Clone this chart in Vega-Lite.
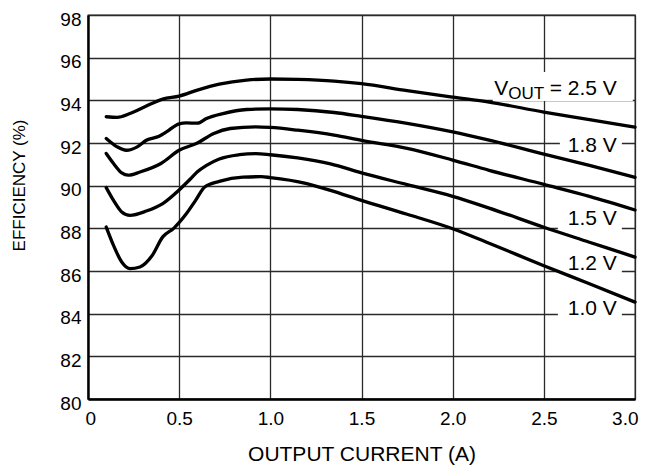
{
  "$schema": "https://vega.github.io/schema/vega-lite/v6.json",
  "width": 547,
  "height": 384,
  "autosize": {"type": "none"},
  "padding": {"left": 88, "top": 15, "right": 14, "bottom": 66},
  "background": "white",
  "config": {
    "font": "Liberation Sans",
    "view": {"stroke": "#333", "strokeWidth": 1.3},
    "axis": {
      "grid": true, "gridColor": "#2a2a2a", "gridWidth": 1.3, "gridOpacity": 1,
      "ticks": false, "domainColor": "#000", "domainWidth": 2.4,
      "labelColor": "#000", "titleColor": "#000",
      "labelFont": "Liberation Sans", "titleFont": "Liberation Sans",
      "titleFontWeight": "normal", "labelFontSize": 19
    }
  },
  "datasets": {
    "curves": [
      {"vout": "2.5 V", "current": 0.1, "eff": 93.23},
      {"vout": "2.5 V", "current": 0.16, "eff": 93.2},
      {"vout": "2.5 V", "current": 0.23, "eff": 93.38},
      {"vout": "2.5 V", "current": 0.32, "eff": 93.73},
      {"vout": "2.5 V", "current": 0.41, "eff": 94.06},
      {"vout": "2.5 V", "current": 0.5, "eff": 94.2},
      {"vout": "2.5 V", "current": 0.6, "eff": 94.48},
      {"vout": "2.5 V", "current": 0.72, "eff": 94.76},
      {"vout": "2.5 V", "current": 0.87, "eff": 94.95},
      {"vout": "2.5 V", "current": 1.0, "eff": 95.0},
      {"vout": "2.5 V", "current": 1.15, "eff": 94.98},
      {"vout": "2.5 V", "current": 1.35, "eff": 94.9},
      {"vout": "2.5 V", "current": 1.5, "eff": 94.78},
      {"vout": "2.5 V", "current": 1.75, "eff": 94.45},
      {"vout": "2.5 V", "current": 2.0, "eff": 94.15},
      {"vout": "2.5 V", "current": 2.2, "eff": 93.92},
      {"vout": "2.5 V", "current": 2.5, "eff": 93.45},
      {"vout": "2.5 V", "current": 2.75, "eff": 93.1},
      {"vout": "2.5 V", "current": 3.0, "eff": 92.74},
      {"vout": "1.8 V", "current": 0.1, "eff": 92.21},
      {"vout": "1.8 V", "current": 0.16, "eff": 91.82},
      {"vout": "1.8 V", "current": 0.21, "eff": 91.66},
      {"vout": "1.8 V", "current": 0.27, "eff": 91.82},
      {"vout": "1.8 V", "current": 0.32, "eff": 92.13},
      {"vout": "1.8 V", "current": 0.39, "eff": 92.32},
      {"vout": "1.8 V", "current": 0.43, "eff": 92.52},
      {"vout": "1.8 V", "current": 0.5, "eff": 92.9},
      {"vout": "1.8 V", "current": 0.54, "eff": 92.94},
      {"vout": "1.8 V", "current": 0.6, "eff": 92.93},
      {"vout": "1.8 V", "current": 0.65, "eff": 93.15},
      {"vout": "1.8 V", "current": 0.74, "eff": 93.38},
      {"vout": "1.8 V", "current": 0.87, "eff": 93.57},
      {"vout": "1.8 V", "current": 1.0, "eff": 93.6},
      {"vout": "1.8 V", "current": 1.15, "eff": 93.57},
      {"vout": "1.8 V", "current": 1.35, "eff": 93.43},
      {"vout": "1.8 V", "current": 1.5, "eff": 93.25},
      {"vout": "1.8 V", "current": 1.75, "eff": 92.92},
      {"vout": "1.8 V", "current": 2.0, "eff": 92.52},
      {"vout": "1.8 V", "current": 2.2, "eff": 92.13},
      {"vout": "1.8 V", "current": 2.5, "eff": 91.48},
      {"vout": "1.8 V", "current": 2.75, "eff": 90.95},
      {"vout": "1.8 V", "current": 3.0, "eff": 90.39},
      {"vout": "1.5 V", "current": 0.1, "eff": 91.51},
      {"vout": "1.5 V", "current": 0.14, "eff": 91.04},
      {"vout": "1.5 V", "current": 0.185, "eff": 90.6},
      {"vout": "1.5 V", "current": 0.22, "eff": 90.49},
      {"vout": "1.5 V", "current": 0.285, "eff": 90.64},
      {"vout": "1.5 V", "current": 0.4, "eff": 91.04},
      {"vout": "1.5 V", "current": 0.5, "eff": 91.66},
      {"vout": "1.5 V", "current": 0.6, "eff": 92.0},
      {"vout": "1.5 V", "current": 0.69, "eff": 92.45},
      {"vout": "1.5 V", "current": 0.78, "eff": 92.68},
      {"vout": "1.5 V", "current": 0.92, "eff": 92.76},
      {"vout": "1.5 V", "current": 1.0, "eff": 92.73},
      {"vout": "1.5 V", "current": 1.15, "eff": 92.6},
      {"vout": "1.5 V", "current": 1.35, "eff": 92.37},
      {"vout": "1.5 V", "current": 1.5, "eff": 92.12},
      {"vout": "1.5 V", "current": 1.75, "eff": 91.75},
      {"vout": "1.5 V", "current": 2.0, "eff": 91.2},
      {"vout": "1.5 V", "current": 2.2, "eff": 90.72},
      {"vout": "1.5 V", "current": 2.5, "eff": 90.06},
      {"vout": "1.5 V", "current": 2.75, "eff": 89.5},
      {"vout": "1.5 V", "current": 3.0, "eff": 88.86},
      {"vout": "1.2 V", "current": 0.1, "eff": 89.91},
      {"vout": "1.2 V", "current": 0.14, "eff": 89.31},
      {"vout": "1.2 V", "current": 0.185, "eff": 88.77},
      {"vout": "1.2 V", "current": 0.23, "eff": 88.61},
      {"vout": "1.2 V", "current": 0.32, "eff": 88.81},
      {"vout": "1.2 V", "current": 0.41, "eff": 89.16},
      {"vout": "1.2 V", "current": 0.5, "eff": 89.8},
      {"vout": "1.2 V", "current": 0.56, "eff": 90.3},
      {"vout": "1.2 V", "current": 0.6, "eff": 90.65},
      {"vout": "1.2 V", "current": 0.65, "eff": 90.95},
      {"vout": "1.2 V", "current": 0.72, "eff": 91.25},
      {"vout": "1.2 V", "current": 0.83, "eff": 91.45},
      {"vout": "1.2 V", "current": 0.92, "eff": 91.5},
      {"vout": "1.2 V", "current": 1.0, "eff": 91.45},
      {"vout": "1.2 V", "current": 1.15, "eff": 91.3},
      {"vout": "1.2 V", "current": 1.33, "eff": 91.02},
      {"vout": "1.2 V", "current": 1.5, "eff": 90.6},
      {"vout": "1.2 V", "current": 1.75, "eff": 90.05},
      {"vout": "1.2 V", "current": 2.0, "eff": 89.5},
      {"vout": "1.2 V", "current": 2.2, "eff": 88.95},
      {"vout": "1.2 V", "current": 2.5, "eff": 88.05},
      {"vout": "1.2 V", "current": 2.75, "eff": 87.35},
      {"vout": "1.2 V", "current": 3.0, "eff": 86.65},
      {"vout": "1.0 V", "current": 0.1, "eff": 88.06},
      {"vout": "1.0 V", "current": 0.14, "eff": 87.2},
      {"vout": "1.0 V", "current": 0.185, "eff": 86.42},
      {"vout": "1.0 V", "current": 0.23, "eff": 86.11},
      {"vout": "1.0 V", "current": 0.285, "eff": 86.19},
      {"vout": "1.0 V", "current": 0.35, "eff": 86.7},
      {"vout": "1.0 V", "current": 0.41, "eff": 87.6},
      {"vout": "1.0 V", "current": 0.47, "eff": 88.0},
      {"vout": "1.0 V", "current": 0.54, "eff": 88.69},
      {"vout": "1.0 V", "current": 0.59, "eff": 89.31},
      {"vout": "1.0 V", "current": 0.64, "eff": 89.94},
      {"vout": "1.0 V", "current": 0.72, "eff": 90.2},
      {"vout": "1.0 V", "current": 0.85, "eff": 90.4},
      {"vout": "1.0 V", "current": 0.95, "eff": 90.42},
      {"vout": "1.0 V", "current": 1.0, "eff": 90.38},
      {"vout": "1.0 V", "current": 1.2, "eff": 90.1},
      {"vout": "1.0 V", "current": 1.33, "eff": 89.78},
      {"vout": "1.0 V", "current": 1.5, "eff": 89.31},
      {"vout": "1.0 V", "current": 1.75, "eff": 88.66},
      {"vout": "1.0 V", "current": 2.0, "eff": 87.98},
      {"vout": "1.0 V", "current": 2.2, "eff": 87.3},
      {"vout": "1.0 V", "current": 2.5, "eff": 86.25},
      {"vout": "1.0 V", "current": 2.75, "eff": 85.4},
      {"vout": "1.0 V", "current": 3.0, "eff": 84.54}
    ],
    "boxes": [
      {"label": "2.5 V", "x1": 2.22, "x2": 2.988, "y1": 95.33, "y2": 93.97},
      {"label": "1.8 V", "x1": 2.588, "x2": 2.928, "y1": 92.52, "y2": 91.45},
      {"label": "1.5 V", "x1": 2.577, "x2": 2.928, "y1": 89.05, "y2": 87.9},
      {"label": "1.2 V", "x1": 2.577, "x2": 2.928, "y1": 86.94, "y2": 85.8},
      {"label": "1.0 V", "x1": 2.577, "x2": 2.928, "y1": 84.83, "y2": 83.7}
    ],
    "labels": [
      {"part": "main", "text": "= 2.5 V", "x": 2.9, "y": 94.25},
      {"part": "main", "text": "1.8 V", "x": 2.9, "y": 91.59},
      {"part": "main", "text": "1.5 V", "x": 2.9, "y": 88.16},
      {"part": "main", "text": "1.2 V", "x": 2.9, "y": 86.05},
      {"part": "main", "text": "1.0 V", "x": 2.9, "y": 83.94},
      {"part": "v", "text": "V", "x": 2.305, "y": 94.25},
      {"part": "sub", "text": "OUT", "x": 2.305, "y": 94.05}
    ]
  },
  "layer": [
    {
      "data": {"name": "boxes"},
      "mark": {"type": "rect", "fill": "white", "stroke": null},
      "encoding": {
        "x": {
          "field": "x1", "type": "quantitative",
          "scale": {"domain": [0, 3], "nice": false, "zero": false},
          "axis": {
            "title": "OUTPUT CURRENT (A)",
            "values": [0, 0.5, 1, 1.5, 2, 2.5, 3],
            "labelExpr": "datum.value == 0 ? '0' : format(datum.value, '.1f')",
            "labelPadding": 10, "labelFlush": true, "labelFlushOffset": 3,
            "titleFontSize": 21, "titleBaseline": "alphabetic", "titleY": 61
          }
        },
        "x2": {"field": "x2"},
        "y": {
          "field": "y1", "type": "quantitative",
          "scale": {"domain": [80, 98], "nice": false, "zero": false},
          "axis": {
            "title": "EFFICIENCY (%)",
            "values": [80, 82, 84, 86, 88, 90, 92, 94, 96, 98],
            "format": "d",
            "labelPadding": 7, "labelFlush": false,
            "labelBaseline": "alphabetic", "labelOffset": 10,
            "titleFontSize": 17, "titleAngle": -90, "titleAlign": "center",
            "titleBaseline": "alphabetic", "titleX": -64, "titleY": 170
          }
        },
        "y2": {"field": "y2"}
      }
    },
    {
      "data": {"name": "curves"},
      "mark": {"type": "line", "stroke": "#000", "strokeWidth": 3.3, "interpolate": "monotone", "strokeCap": "round"},
      "encoding": {
        "x": {"field": "current", "type": "quantitative"},
        "y": {"field": "eff", "type": "quantitative"},
        "detail": {"field": "vout", "type": "nominal"}
      }
    },
    {
      "data": {"name": "labels"},
      "transform": [{"filter": "datum.part == 'main'"}],
      "mark": {"type": "text", "align": "right", "baseline": "alphabetic", "fontSize": 21, "color": "#000"},
      "encoding": {
        "x": {"field": "x", "type": "quantitative"},
        "y": {"field": "y", "type": "quantitative"},
        "text": {"field": "text"}
      }
    },
    {
      "data": {"name": "labels"},
      "transform": [{"filter": "datum.part == 'v'"}],
      "mark": {"type": "text", "align": "right", "baseline": "alphabetic", "fontSize": 21, "color": "#000"},
      "encoding": {
        "x": {"field": "x", "type": "quantitative"},
        "y": {"field": "y", "type": "quantitative"},
        "text": {"field": "text"}
      }
    },
    {
      "data": {"name": "labels"},
      "transform": [{"filter": "datum.part == 'sub'"}],
      "mark": {"type": "text", "align": "left", "baseline": "alphabetic", "fontSize": 17, "color": "#000"},
      "encoding": {
        "x": {"field": "x", "type": "quantitative"},
        "y": {"field": "y", "type": "quantitative"},
        "text": {"field": "text"}
      }
    }
  ]
}
